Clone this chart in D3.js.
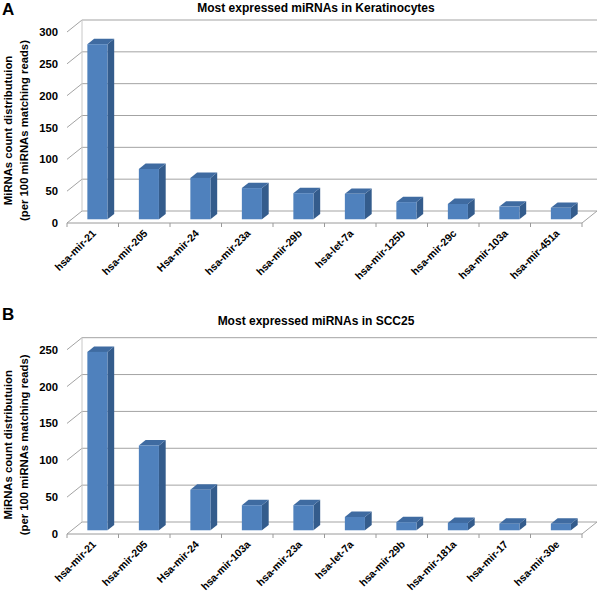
<!DOCTYPE html>
<html>
<head>
<meta charset="utf-8">
<script src="https://cdn.jsdelivr.net/npm/d3@7"></script>
<style>
  body { margin: 0; background: #fff; }
  text { font-family: "Liberation Sans", Arial, sans-serif; font-weight: bold; fill: #000; }
</style>
</head>
<body>
<div id="chart"></div>
<script>
// data
const catsA = ["hsa-mir-21", "hsa-mir-205", "Hsa-mir-24", "hsa-mir-23a", "hsa-mir-29b", "hsa-let-7a", "hsa-mir-125b", "hsa-mir-29c", "hsa-mir-103a", "hsa-mir-451a"];
const valsA = [275, 79, 65, 49, 41, 40, 27, 24, 20, 18];
const ticksA = [0, 50, 100, 150, 200, 250, 300];

const catsB = ["hsa-mir-21", "hsa-mir-205", "Hsa-mir-24", "hsa-mir-103a", "hsa-mir-23a", "hsa-let-7a", "hsa-mir-29b", "hsa-mir-181a", "hsa-mir-17", "hsa-mir-30e"];
const valsB = [242, 115, 55, 34, 34, 18, 11, 10, 9, 9];
const ticksB = [0, 50, 100, 150, 200, 250];

const W = 600, H = 592;
const DX = 15, DY = 12;          // floor depth (back -> front offset)
const F0 = 0.31, FD = 0.45;      // bar front position and depth, as fraction of floor depth

const svg = d3.select("#chart").append("svg")
    .attr("width", W).attr("height", H);
svg.append("rect").attr("width", W).attr("height", H).attr("fill", "#fff");

function drawPanel(cfg){
    let g = svg.append("g");
    let y = d3.scaleLinear().domain([0, d3.max(cfg.ticks)]).range([cfg.y0, cfg.yTop]);
    let x = d3.scaleBand().domain(cfg.cats).range([67, 582]).paddingInner(0).paddingOuter(0);
    let bw = x.bandwidth() * 0.39;

    // panel letter and title
    g.append("text").attr("x", 2).attr("y", cfg.letterY)
        .style("font-size", "17px").text(cfg.letter);
    g.append("text").attr("x", 316).attr("y", cfg.titleY)
        .attr("text-anchor", "middle").style("font-size", "12px").text(cfg.title);

    // y axis title (two lines)
    let yc = (cfg.y0 + cfg.yTop) / 2 + 15;
    g.append("text").attr("transform", `translate(12, ${yc}) rotate(-90)`)
        .attr("text-anchor", "middle").style("font-size", "11.3px").text("MiRNAs count distributuion");
    g.append("text").attr("transform", `translate(28, ${yc}) rotate(-90)`)
        .attr("text-anchor", "middle").style("font-size", "11.3px").text("(per 100 miRNAs matching reads)");

    // back wall gridlines + side wall diagonals
    cfg.ticks.forEach(function(t){
        g.append("line").attr("x1", 82).attr("x2", 597)
            .attr("y1", y(t)).attr("y2", y(t))
            .attr("stroke", "#a3a3a3").attr("stroke-width", 1);
        g.append("line").attr("x1", 67).attr("y1", y(t) + DY)
            .attr("x2", 82).attr("y2", y(t))
            .attr("stroke", "#a3a3a3").attr("stroke-width", 1);
        g.append("text").attr("x", 58).attr("y", y(t) + DY)
            .attr("dy", "0.36em").attr("text-anchor", "end")
            .style("font-size", "11.3px").text(t);
    });
    // wall corner
    g.append("line").attr("x1", 82).attr("x2", 82)
        .attr("y1", y(d3.max(cfg.ticks))).attr("y2", y(0))
        .attr("stroke", "#c8c8c8").attr("stroke-width", 1);

    // floor front edge (category axis) and right diagonal
    let fy = y(0) + DY;
    g.append("line").attr("x1", 67).attr("x2", 582).attr("y1", fy).attr("y2", fy)
        .attr("stroke", "#9a9a9a").attr("stroke-width", 1);
    g.append("line").attr("x1", 582).attr("y1", fy).attr("x2", 597).attr("y2", y(0))
        .attr("stroke", "#a3a3a3").attr("stroke-width", 1);
    let edges = cfg.cats.map((c) => x(c)).concat([582]);
    edges.forEach(function(e){
        g.append("line").attr("x1", e).attr("x2", e).attr("y1", fy).attr("y2", fy + 4)
            .attr("stroke", "#9a9a9a").attr("stroke-width", 1);
    });

    // bars
    let ddx = FD * DX, ddy = FD * DY;
    cfg.cats.forEach(function(c, i){
        let v = cfg.vals[i];
        let cx = x(c) + x.bandwidth() / 2 + F0 * DX;
        let x0 = cx - bw / 2, x1 = cx + bw / 2;
        let yb = y(0) + DY - F0 * DY;
        let yt = y(v) + DY - F0 * DY;
        g.append("polygon")
            .attr("points", [[x1, yb], [x1 + ddx, yb - ddy], [x1 + ddx, yt - ddy], [x1, yt]].join(" "))
            .attr("fill", "#345c8c");
        g.append("polygon")
            .attr("points", [[x0, yt], [x1, yt], [x1 + ddx, yt - ddy], [x0 + ddx, yt - ddy]].join(" "))
            .attr("fill", "#3f6ba1");
        g.append("rect").attr("x", x0).attr("y", yt)
            .attr("width", bw).attr("height", yb - yt)
            .attr("fill", "#4f81bd");
    });

    // category labels, rotated
    cfg.cats.forEach(function(c){
        let px = x(c) + x.bandwidth() / 2 + 4;
        let py = fy + 11;
        g.append("text").attr("transform", `translate(${px}, ${py}) rotate(-45)`)
            .attr("text-anchor", "end").style("font-size", "10.5px").text(c);
    });
}

drawPanel({cats: catsA, vals: valsA, ticks: ticksA, y0: 211, yTop: 20,
    letter: "A", letterY: 15, title: "Most expressed miRNAs in Keratinocytes", titleY: 12});
drawPanel({cats: catsB, vals: valsB, ticks: ticksB, y0: 522, yTop: 337.7,
    letter: "B", letterY: 320, title: "Most expressed miRNAs in SCC25", titleY: 325});
</script>
</body>
</html>
